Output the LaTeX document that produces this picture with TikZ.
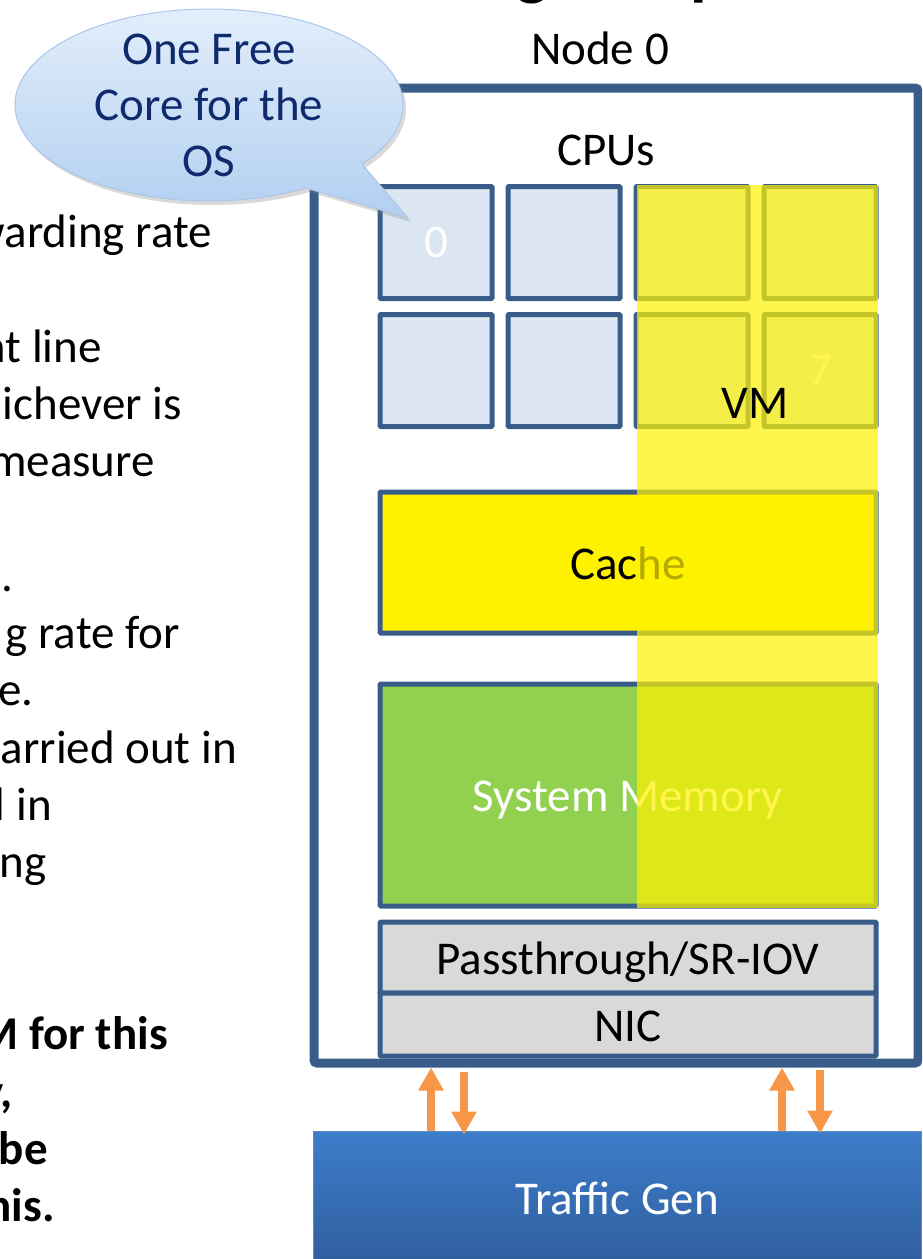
\documentclass[tikz,border=0pt]{standalone}
\usepackage{fontspec}
\setmainfont{Carlito}
\usetikzlibrary{shapes.callouts,shadows,arrows.meta}

\definecolor{boxblue}{RGB}{56,93,138}
\definecolor{coreblue}{RGB}{220,230,242}
\definecolor{memgreen}{RGB}{146,208,80}
\definecolor{nicgray}{RGB}{217,217,217}
\definecolor{arroworange}{RGB}{247,150,70}
\definecolor{gentop}{RGB}{61,125,202}
\definecolor{genbottom}{RGB}{47,94,158}
\definecolor{genedge}{RGB}{90,140,200}
\definecolor{bubbletop}{RGB}{226,238,251}
\definecolor{bubblebottom}{RGB}{178,207,240}
\definecolor{bubbleedge}{RGB}{170,198,232}
\definecolor{bubbleink}{RGB}{16,42,110}

\begin{document}
\begin{tikzpicture}[
  x=1pt, y=-1pt,
  node distance=128pt,
  font=\fontsize{47}{56}\selectfont,
  core/.style={draw=boxblue, line width=5pt, fill=coreblue, minimum size=112pt, inner sep=0pt, text=white, rounded corners=1pt},
  block/.style={draw=boxblue, line width=5pt, minimum width=496pt, inner sep=0pt, text height=33pt, text depth=0pt, rounded corners=1pt},
  flow/.style={draw=arroworange, line width=8pt, -{Triangle[width=24pt,length=23pt]}},
  bullet/.style={anchor=base east, inner sep=0pt},
  boldbullet/.style={bullet, font=\fontsize{47}{56}\selectfont\bfseries}
]
\useasboundingbox (0,0) rectangle (922,1259);
\clip (0,0) rectangle (922,1259);

% Slide title, cut off at the top
\node[bullet, font=\bfseries\fontsize{68}{80}\selectfont] (title) at (727,-8) {Testing Setup};

% Host box
\node[draw=boxblue, line width=9pt, minimum width=604pt, minimum height=975pt, inner sep=0pt, rounded corners=3pt] (host) at (616,575.5) {};
\node (nodelabel) at (600,48) {Node 0};
\node (cpulabel) at (606,150) {CPUs};

% CPU cores
\node[core] (cpu0) at (436,242.5) {0};
\node[core, right of=cpu0] (cpu1) {};
\node[core, right of=cpu1] (cpu2) {};
\node[core, right of=cpu2] (cpu3) {};
\node[core, below of=cpu0] (cpu4) {};
\node[core, right of=cpu4] (cpu5) {};
\node[core, right of=cpu5] (cpu6) {};
\node[core, right of=cpu6] (cpu7) {7};

% Cache, memory and NIC
\node[block, fill=yellow, minimum height=141pt] (cache) at (628,562.5) {Cache};
\node[block, fill=memgreen, minimum height=222pt, text=white] (memory) at (628,795) {System Memory};
\node[block, fill=nicgray, minimum height=71pt] (pass) at (628,957.5) {Passthrough/SR-IOV};
\node[block, fill=nicgray, minimum height=63pt] (nic) at (628,1024.5) {NIC};

% VM pinned to the right cores
\fill[yellow, opacity=0.7] (637,185) rectangle (878,908);
\node (vmlabel) at (755,403) {VM};

% Traffic generator
\node[draw=genedge, line width=1pt, top color=gentop, bottom color=genbottom, minimum width=608pt, minimum height=134pt, text=white, text height=33pt, text depth=0pt] (traffic) at (617,1198) {Traffic Gen};

% Packets in and out
\coordinate (upA) at (431,0);
\coordinate (downA) at (464,0);
\coordinate (upB) at (782,0);
\coordinate (downB) at (820,0);
\draw[flow] (traffic.north -| upA) -- (host.south -| upA);
\draw[flow, shorten <=4pt, shorten >=-4pt] (host.south -| downA) -- (traffic.north -| downA);
\draw[flow] (traffic.north -| upB) -- (host.south -| upB);
\draw[flow, shorten <=2pt, shorten >=-3pt] (host.south -| downB) -- (traffic.north -| downB);

% Callout for the OS core
\node[ellipse callout, callout absolute pointer={(408,218)}, callout pointer arc=22, minimum width=388pt, minimum height=192pt, inner sep=0pt, top color=bubbletop, bottom color=bubblebottom, draw=bubbleedge, line width=1pt, drop shadow={opacity=0.3, shadow xshift=3pt, shadow yshift=-4pt}] (bubble) at (209,105) {};
\node[text=bubbleink, align=center] (bubbletxt) at (bubble.center) {One Free\\Core for the\\OS};

% Bullet text, cut off on the left
\node[bullet] (ln1) at (212,247) {forwarding rate};
\node[bullet] (ln2) at (102,362) {at line};
\node[bullet] (ln3) at (182,419) {whichever is};
\node[bullet] (ln4) at (155,476) {measure};
\node[bullet] (ln5) at (14,591) {.};
\node[bullet] (ln6) at (180,648) {g rate for};
\node[bullet] (ln7) at (34,705) {e.};
\node[bullet] (ln8) at (237,763) {arried out in};
\node[bullet] (ln9) at (52,820) {l in};
\node[bullet] (ln10) at (47,877) {ng};
\node[boldbullet] (ln11) at (168,1049) {M for this};
\node[boldbullet] (ln12) at (13,1107) {y,};
\node[boldbullet] (ln13) at (48,1164) {be};
\node[boldbullet] (ln14) at (55,1221) {his.};
\end{tikzpicture}
\end{document}
